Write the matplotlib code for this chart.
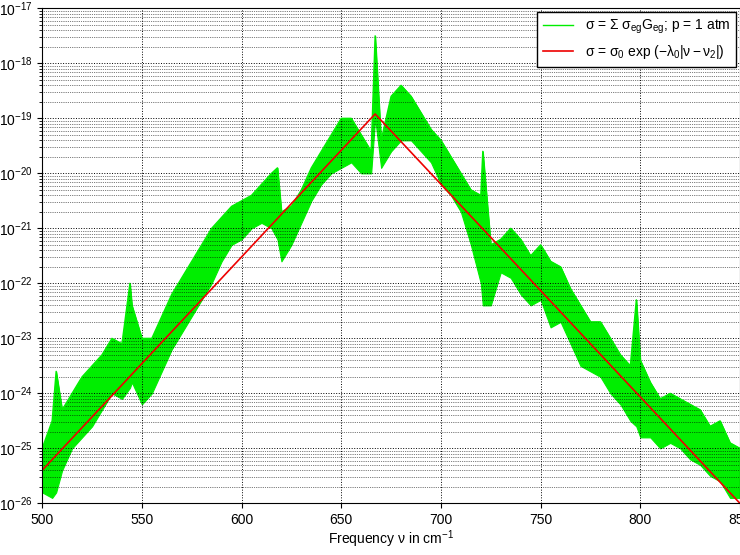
import numpy as np
import matplotlib
matplotlib.use("Agg")
import matplotlib.pyplot as plt

plt.rcParams["font.family"] = "Liberation Sans"
plt.rcParams["mathtext.fontset"] = "custom"
plt.rcParams["mathtext.rm"] = "Liberation Sans"
plt.rcParams["mathtext.it"] = "Liberation Sans"

# green spectrum envelope (log10 of cross section)
freq = [500, 505, 507, 510, 515, 520, 525, 530, 535, 540, 544, 545, 550, 555, 560,
        565, 570, 575, 580, 585, 590, 595, 600, 605, 610, 615, 618, 620, 625, 630,
        635, 640, 645, 650, 655, 660, 665, 667, 670, 675, 680, 685, 690, 695, 700,
        705, 710, 715, 720, 721, 725, 730, 735, 740, 745, 750, 755, 760, 765, 770,
        775, 780, 785, 790, 795, 798, 800, 805, 810, 815, 820, 825, 830, 835, 840,
        845, 850]
log_hi = [-25.0, -24.5, -23.6, -24.3, -24.0, -23.7, -23.5, -23.3, -23.0, -23.1, -22.0, -22.4,
          -23.0, -23.0, -22.6, -22.2, -21.9, -21.6, -21.3, -21.0, -20.8, -20.6, -20.5, -20.4,
          -20.2, -20.0, -19.9, -20.7, -20.6, -20.3, -19.9, -19.6, -19.3, -19.0, -19.0, -19.3,
          -19.6, -17.5, -19.4, -18.6, -18.4, -18.6, -18.9, -19.2, -19.4, -19.7, -20.0, -20.3,
          -20.4, -19.6, -21.3, -21.2, -21.0, -21.2, -21.5, -21.3, -21.6, -21.7, -22.1, -22.4,
          -22.7, -22.7, -23.0, -23.3, -23.5, -22.3, -23.4, -23.8, -24.1, -24.0, -24.1, -24.2,
          -24.3, -24.6, -24.5, -24.9, -25.0]
log_lo = [-25.8, -25.9, -25.8, -25.4, -25.0, -24.8, -24.6, -24.3, -24.0, -24.1, -23.9, -23.8,
          -24.2, -24.0, -23.6, -23.2, -22.9, -22.6, -22.3, -22.0, -21.6, -21.3, -21.2, -21.0,
          -20.9, -21.0, -21.2, -21.6, -21.3, -20.9, -20.5, -20.2, -20.0, -19.9, -19.8, -20.0,
          -20.0, -19.0, -19.9, -19.6, -19.4, -19.4, -19.6, -19.8, -20.2, -20.4, -20.7, -21.3,
          -22.0, -22.4, -22.4, -21.8, -21.9, -22.2, -22.4, -22.3, -22.8, -22.7, -23.1, -23.5,
          -23.6, -23.7, -24.0, -24.2, -24.5, -24.6, -24.8, -24.8, -25.0, -24.9, -25.0, -25.2,
          -25.3, -25.5, -25.6, -25.9, -25.9]

# red model line
red_freq = [500, 667, 850]
red_sigma = [4e-26, 1.2e-19, 1.0e-26]

fig, ax = plt.subplots(figsize=(7.4, 5.55), dpi=100)
fig.subplots_adjust(left=0.057, right=1.0, top=0.985, bottom=0.093)

hi = 10.0 ** np.array(log_hi)
lo = 10.0 ** np.array(log_lo)
ax.fill_between(freq, lo, hi, color="#00ee00", lw=0.8)
ax.plot(freq, hi, color="#00ee00", lw=1,
        label=r"$\sigma$ = $\Sigma$ $\sigma_{eg}G_{eg}$; p = 1 atm")
ax.plot(red_freq, red_sigma, color="#ee0000", lw=1.2,
        label=r"$\sigma$ = $\sigma_0$ exp ($-\lambda_0$|$\nu-\nu_2$|)")

ax.set_yscale("log")
ax.set_xlim(500, 850)
ax.set_ylim(1e-26, 1e-17)
ax.set_xticks(np.arange(500, 851, 50))
ax.grid(True, which="major", ls=":", color="black", lw=0.7)
ax.grid(True, which="minor", axis="y", ls=":", color="black", lw=0.5)
ax.tick_params(labelsize=10)
ax.set_xlabel(r"Frequency $\nu$ in cm$^{-1}$", fontsize=10, labelpad=1)
ax.legend(loc="upper right", fontsize=10, fancybox=False, framealpha=1,
          edgecolor="black", borderaxespad=0.3, handlelength=2.2)

fig.savefig("out.png", dpi=100)
